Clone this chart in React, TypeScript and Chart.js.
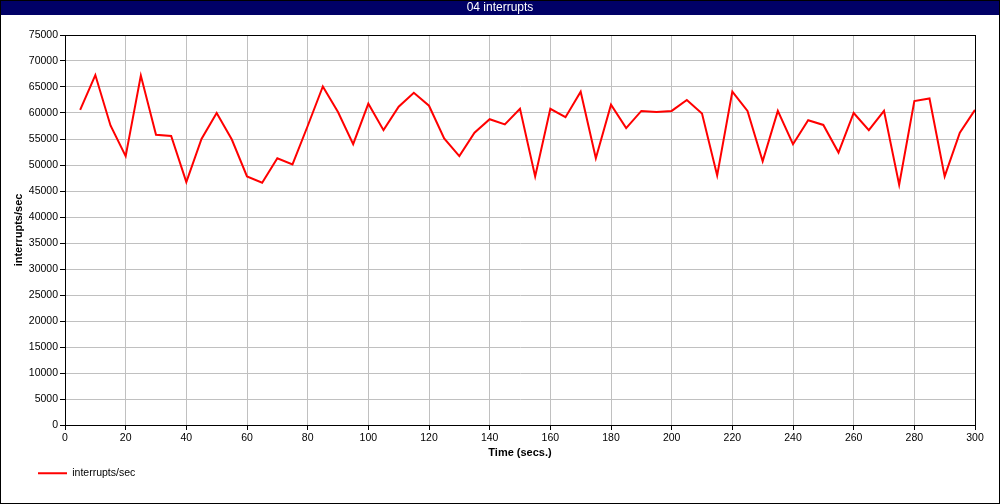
import React, { useEffect, useRef } from "react";
import { Chart, registerables } from "chart.js";

Chart.register(...registerables);

const CHART_TITLE = "04 interrupts";
const SERIES_LABEL = "interrupts/sec";
const X_AXIS_TITLE = "Time (secs.)";
const Y_AXIS_TITLE = "interrupts/sec";

const TIMES = [
  5, 10, 15, 20, 25, 30, 35, 40, 45, 50, 55, 60, 65, 70, 75, 80, 85, 90, 95, 100,
  105, 110, 115, 120, 125, 130, 135, 140, 145, 150, 155, 160, 165, 170, 175, 180, 185, 190, 195, 200,
  205, 210, 215, 220, 225, 230, 235, 240, 245, 250, 255, 260, 265, 270, 275, 280, 285, 290, 295, 300,
];

const INTERRUPTS = [
  60600, 67300, 57600, 51700, 67200, 55800, 55600, 46700, 55000, 60000,
  54900, 47800, 46600, 51300, 50100, 57500, 65100, 60200, 54000, 61800,
  56700, 61200, 63900, 61400, 55100, 51700, 56200, 58800, 57800, 60800,
  47800, 60800, 59200, 64100, 51300, 61600, 57100, 60400, 60200, 60400,
  62500, 59900, 48000, 64100, 60400, 50700, 60400, 54000, 58600, 57700,
  52400, 60000, 56700, 60400, 46200, 62300, 62800, 47800, 56200, 60600,
];

const X_MIN = 0;
const X_MAX = 300;
const X_STEP = 20;
const Y_MIN = 0;
const Y_MAX = 75000;
const Y_STEP = 5000;

const FONT_FAMILY = "'Liberation Sans', Arial, sans-serif";
const NAVY = "#000066";
const GRID = "#c0c0c0";
const LINE_RED = "#ff0000";

const framePlugin = {
  id: "frame",
  afterLayout(chart: any) {
    const t = chart.titleBlock;
    if (t) {
      t.left = 0;
      t.right = chart.width;
      t.width = chart.width;
    }
    const l = chart.legend;
    if (l) {
      l.left += 31;
      l.right += 31;
    }
  },
  beforeDraw(chart: any) {
    const ctx = chart.ctx;
    ctx.save();
    ctx.fillStyle = "#ffffff";
    ctx.fillRect(0, 0, chart.width, chart.height);
    ctx.fillStyle = NAVY;
    ctx.fillRect(0, 0, chart.width, 15);
    ctx.restore();
  },
  beforeDatasetsDraw(chart: any) {
    const { ctx, chartArea } = chart;
    ctx.save();
    ctx.strokeStyle = "#000";
    ctx.lineWidth = 1;
    const l = Math.round(chartArea.left) + 0.5;
    const t = Math.round(chartArea.top) + 0.5;
    const r = Math.round(chartArea.right) + 0.5;
    const b = Math.round(chartArea.bottom) + 0.5;
    ctx.strokeRect(l, t, r - l, b - t);
    ctx.restore();
  },
  afterDraw(chart: any) {
    const ctx = chart.ctx;
    ctx.save();
    ctx.strokeStyle = "#000";
    ctx.lineWidth = 1;
    ctx.strokeRect(0.5, 0.5, chart.width - 1, chart.height - 1);
    ctx.restore();
  },
};

export default function App() {
  const canvasRef = useRef<HTMLCanvasElement | null>(null);

  useEffect(() => {
    if (!canvasRef.current) return;
    const points = TIMES.map((t, i) => ({ x: t, y: INTERRUPTS[i] }));
    const tickFont = { family: FONT_FAMILY, size: 10.5 };
    const titleFont = { family: FONT_FAMILY, size: 11, weight: "bold" as const };

    const chart = new Chart(canvasRef.current, {
      type: "line",
      data: {
        datasets: [
          {
            label: SERIES_LABEL,
            data: points,
            borderColor: LINE_RED,
            backgroundColor: LINE_RED,
            borderWidth: 2,
            pointRadius: 0,
            tension: 0,
            fill: false,
          },
        ],
      },
      options: {
        responsive: false,
        animation: false,
        devicePixelRatio: 1,
        layout: { padding: { left: 0, right: 25, top: 0, bottom: 15.5 } },
        plugins: {
          title: {
            display: true,
            text: CHART_TITLE,
            color: "#ffffff",
            font: { family: FONT_FAMILY, size: 12, weight: "normal", lineHeight: 1.25 },
            padding: { top: 0, bottom: 20 },
          },
          legend: {
            display: true,
            position: "bottom",
            align: "start",
            labels: {
              usePointStyle: true,
              pointStyle: "line",
              pointStyleWidth: 29,
              padding: 7,
              color: "#000",
              font: tickFont,
            },
          },
          tooltip: { enabled: false },
        },
        scales: {
          x: {
            type: "linear",
            min: X_MIN,
            max: X_MAX,
            ticks: {
              stepSize: X_STEP,
              autoSkip: false,
              maxRotation: 0,
              padding: 1.5,
              color: "#000",
              font: tickFont,
              callback: (v: any) => String(v),
            },
            grid: { color: GRID, tickColor: "#000", tickLength: 5, lineWidth: 1 },
            border: { color: "#000", width: 1 },
            title: {
              display: true,
              text: X_AXIS_TITLE,
              color: "#000",
              font: titleFont,
              padding: { top: 0, bottom: 1.5 },
            },
            afterFit: (s: any) => {
              s.height = 36;
            },
          },
          y: {
            type: "linear",
            min: Y_MIN,
            max: Y_MAX,
            ticks: {
              stepSize: Y_STEP,
              autoSkip: false,
              padding: 2,
              color: "#000",
              font: tickFont,
              callback: (v: any) => String(v),
            },
            grid: { color: GRID, tickColor: "#000", tickLength: 5, lineWidth: 1 },
            border: { color: "#000", width: 1 },
            title: {
              display: true,
              text: Y_AXIS_TITLE,
              color: "#000",
              font: titleFont,
              padding: { top: 12.5, bottom: 0 },
            },
            afterFit: (s: any) => {
              s.width = 65;
            },
          },
        },
      },
      plugins: [framePlugin],
    });
    return () => chart.destroy();
  }, []);

  return (
    <div style={{ position: "absolute", left: 0, top: 0, width: 1000, height: 504 }}>
      <canvas ref={canvasRef} width={1000} height={504} style={{ display: "block", width: 1000, height: 504 }} />
    </div>
  );
}
